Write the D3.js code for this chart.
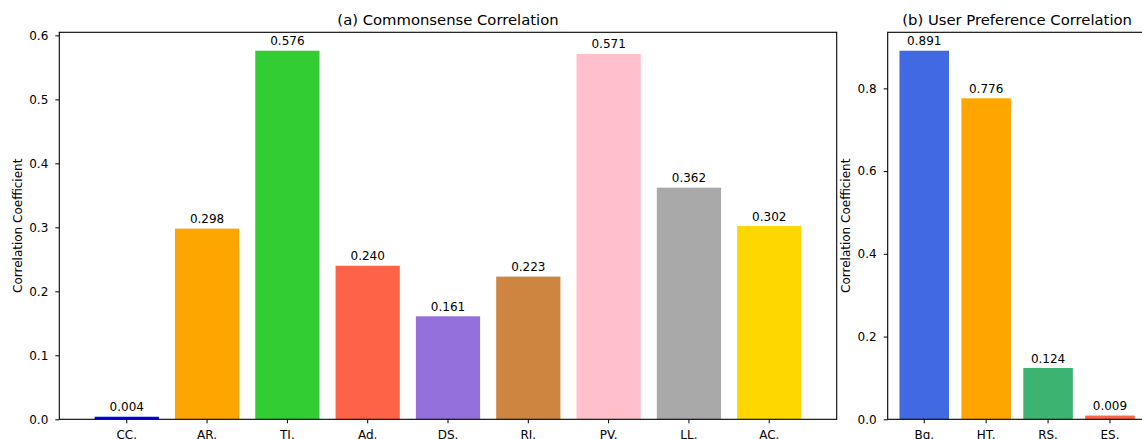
<!DOCTYPE html>
<html>
<head>
<meta charset="utf-8">
<script src="https://cdn.jsdelivr.net/npm/d3@7"></script>
<style>
  body { margin: 0; background: #fff; }
  svg text { font-family: "DejaVu Sans", sans-serif; fill: #000; }
  .tick text { font-size: 12px; }
  .domain { display: none; }
</style>
</head>
<body>
<div id="chart"></div>
<script>
// panel (a)
const commonCats = ["CC.", "AR.", "TI.", "Ad.", "DS.", "RI.", "PV.", "LL.", "AC."];
const commonVals = [0.004, 0.298, 0.576, 0.240, 0.161, 0.223, 0.571, 0.362, 0.302];
const commonColors = ["#0000ff", "#ffa500", "#32cd32", "#ff6347", "#9370db", "#cd853f", "#ffc0cb", "#a9a9a9", "#ffd700"];
const commonTicks = [0.0, 0.1, 0.2, 0.3, 0.4, 0.5, 0.6];

// panel (b)
const userCats = ["Bg.", "HT.", "RS.", "ES."];
const userVals = [0.891, 0.776, 0.124, 0.009];
const userColors = ["#4169e1", "#ffa500", "#3cb371", "#ff6347"];
const userTicks = [0.0, 0.2, 0.4, 0.6, 0.8];

const W = 1142, H = 439;
const plotTop = 32.3, plotBottom = 419.3;

const svg = d3.select("#chart").append("svg")
    .attr("width", W)
    .attr("height", H);

function panel(opts) {
    const x = d3.scaleBand()
        .domain(opts.cats)
        .range([opts.left, opts.right])
        .paddingInner(0.2)
        .paddingOuter(opts.outer);

    const y = d3.scaleLinear()
        .domain([0, d3.max(opts.vals) * 1.05])
        .range([plotBottom, plotTop]);

    const g = svg.append("g");

    // bars
    g.selectAll(".bar")
        .data(opts.vals)
        .enter().append("rect")
        .attr("class", "bar")
        .attr("x", (d, i) => x(opts.cats[i]))
        .attr("width", x.bandwidth())
        .attr("y", d => y(d))
        .attr("height", d => y(0) - y(d))
        .attr("fill", (d, i) => opts.colors[i]);

    // value labels
    g.selectAll(".val")
        .data(opts.vals)
        .enter().append("text")
        .attr("class", "val")
        .attr("x", (d, i) => x(opts.cats[i]) + x.bandwidth() / 2)
        .attr("y", d => y(d) - 5.5)
        .attr("text-anchor", "middle")
        .style("font-size", "12px")
        .text(d => d3.format(".3f")(d));

    // axes
    g.append("g")
        .attr("transform", `translate(0,${plotBottom})`)
        .call(d3.axisBottom(x).tickSize(4).tickPadding(7))
        .call(a => a.selectAll(".tick line").attr("stroke", "#000"));

    g.append("g")
        .attr("transform", `translate(${opts.left},0)`)
        .call(d3.axisLeft(y).tickValues(opts.ticks).tickFormat(d3.format(".1f")).tickSize(4).tickPadding(7))
        .call(a => a.selectAll(".tick line").attr("stroke", "#000"));

    // frame
    g.append("rect")
        .attr("x", opts.left)
        .attr("y", plotTop)
        .attr("width", opts.right - opts.left)
        .attr("height", plotBottom - plotTop)
        .attr("fill", "none")
        .attr("stroke", "#000")
        .attr("stroke-width", 1.1);

    // title
    g.append("text")
        .attr("x", (opts.left + opts.right) / 2)
        .attr("y", 25)
        .attr("text-anchor", "middle")
        .style("font-size", "14.8px")
        .text(opts.title);

    // y label
    g.append("text")
        .attr("transform", "rotate(-90)")
        .attr("x", -(plotTop + plotBottom) / 2)
        .attr("y", opts.left - 37.8)
        .attr("text-anchor", "middle")
        .style("font-size", "12px")
        .text("Correlation Coefficient");
}

panel({
    cats: commonCats, vals: commonVals, colors: commonColors, ticks: commonTicks,
    left: 59.3, right: 836.7, outer: 0.44,
    title: "(a) Commonsense Correlation"
});

panel({
    cats: userCats, vals: userVals, colors: userColors, ticks: userTicks,
    left: 887.7, right: 1146.5, outer: 0.19,
    title: "(b) User Preference Correlation"
});
</script>
</body>
</html>
